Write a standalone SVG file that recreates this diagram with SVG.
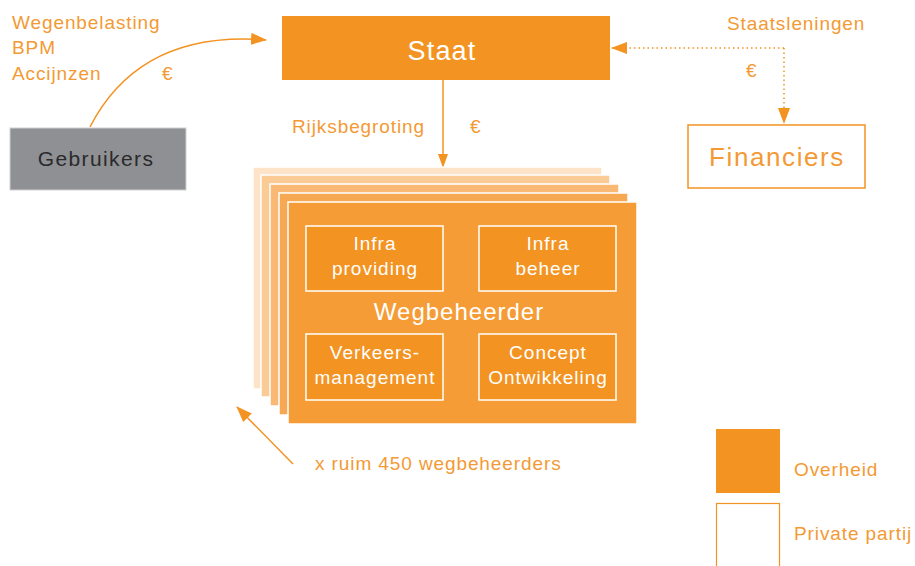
<svg xmlns="http://www.w3.org/2000/svg" width="915" height="566" viewBox="0 0 915 566">
<defs>
<style>
text{font-family:"Liberation Sans","DejaVu Sans",sans-serif}
.o{fill:#f39322}
.lbl{fill:#f39a34;font-size:19px;letter-spacing:0.9px}
.w{fill:#ffffff;text-anchor:middle;font-size:19px;letter-spacing:1px}
.inner{fill:#f39322;stroke:#ffffff;stroke-width:1.5}
.ln{fill:none;stroke:#f39322;stroke-width:1.5}
.dot{fill:none;stroke:#f39322;stroke-width:1.5;stroke-dasharray:1.5 3}
</style>
<marker id="ah" viewBox="0 0 16 12" refX="15" refY="6" markerWidth="16" markerHeight="12" markerUnits="userSpaceOnUse" orient="auto"><path d="M0,0L16,6L0,12z" fill="#f39322"/></marker>
<marker id="ahs" viewBox="0 0 14 10" refX="13" refY="5" markerWidth="14" markerHeight="10" markerUnits="userSpaceOnUse" orient="auto"><path d="M0,0L14,5L0,10z" fill="#f39322"/></marker>
</defs>
<rect width="915" height="566" fill="#ffffff"/>
<g id="connectors">
<path class="ln" d="M90,127 Q140,30 266,40" marker-end="url(#ah)"/>
<path class="ln" d="M443,80 V167" marker-end="url(#ahs)"/>
<path class="dot" d="M784,48 H612" marker-end="url(#ah)"/>
<path class="dot" d="M784,48 V123" marker-end="url(#ah)"/>
<path class="ln" d="M293,464 L237,407" marker-end="url(#ah)"/>
</g>
<g id="labels">
<text class="lbl" x="12" y="29">Wegenbelasting</text>
<text class="lbl" x="12" y="54">BPM</text>
<text class="lbl" x="12" y="80">Accijnzen</text>
<text class="lbl" x="162" y="80">€</text>
<text class="lbl" x="292" y="133">Rijksbegroting</text>
<text class="lbl" x="470" y="133">€</text>
<text class="lbl" x="727" y="30">Staatsleningen</text>
<text class="lbl" x="746" y="77">€</text>
<text class="lbl" x="315" y="470">x ruim 450 wegbeheerders</text>
</g>
<g id="staat">
<rect class="o" x="282" y="16" width="328" height="64"/>
<text x="442" y="60" fill="#ffffff" text-anchor="middle" font-size="27" letter-spacing="1.2">Staat</text>
</g>
<g id="gebruikers">
<rect x="10" y="128" width="176" height="62" fill="#8f9094" stroke="#d0d0d0" stroke-width="1"/>
<text x="96" y="166" fill="#2a2a2a" text-anchor="middle" font-size="21" letter-spacing="1.4">Gebruikers</text>
</g>
<g id="financiers">
<rect x="688" y="125" width="177" height="63" fill="#ffffff" stroke="#f39322" stroke-width="1.5"/>
<text x="777" y="166" fill="#f39a34" text-anchor="middle" font-size="26" letter-spacing="1.6">Financiers</text>
</g>
<g id="wegbeheerder">
<rect x="253" y="167" width="349" height="222" fill="#fde4c8" stroke="#ffffff" stroke-width="1.5"/>
<rect x="261" y="175" width="349" height="222" fill="#fbcb96" stroke="#ffffff" stroke-width="1.5"/>
<rect x="270" y="184" width="349" height="222" fill="#f9b874" stroke="#ffffff" stroke-width="1.5"/>
<rect x="279" y="193" width="349" height="222" fill="#f7a852" stroke="#ffffff" stroke-width="1.5"/>
<rect x="288" y="202" width="349" height="222" fill="#f59c36" stroke="#ffffff" stroke-width="1.5"/>
<text x="459" y="320" fill="#ffffff" text-anchor="middle" font-size="24" letter-spacing="1">Wegbeheerder</text>
</g>
<g id="infra-providing">
<rect class="inner" x="306" y="226" width="137" height="65"/>
<text class="w" x="375" y="250">Infra</text>
<text class="w" x="375" y="275">providing</text>
</g>
<g id="infra-beheer">
<rect class="inner" x="479" y="226" width="137" height="65"/>
<text class="w" x="548" y="250">Infra</text>
<text class="w" x="548" y="275">beheer</text>
</g>
<g id="verkeersmanagement">
<rect class="inner" x="306" y="334" width="137" height="66"/>
<text class="w" x="375" y="359">Verkeers-</text>
<text class="w" x="375" y="384">management</text>
</g>
<g id="concept-ontwikkeling">
<rect class="inner" x="479" y="334" width="137" height="66"/>
<text class="w" x="548" y="359">Concept</text>
<text class="w" x="548" y="384">Ontwikkeling</text>
</g>
<g id="legend">
<rect class="o" x="716" y="429" width="64" height="64"/>
<text class="lbl" x="794" y="476">Overheid</text>
<rect x="716.5" y="503.5" width="63" height="70" fill="#ffffff" stroke="#f39322" stroke-width="1.2"/>
<text class="lbl" x="794" y="540">Private partij</text>
</g>
</svg>
